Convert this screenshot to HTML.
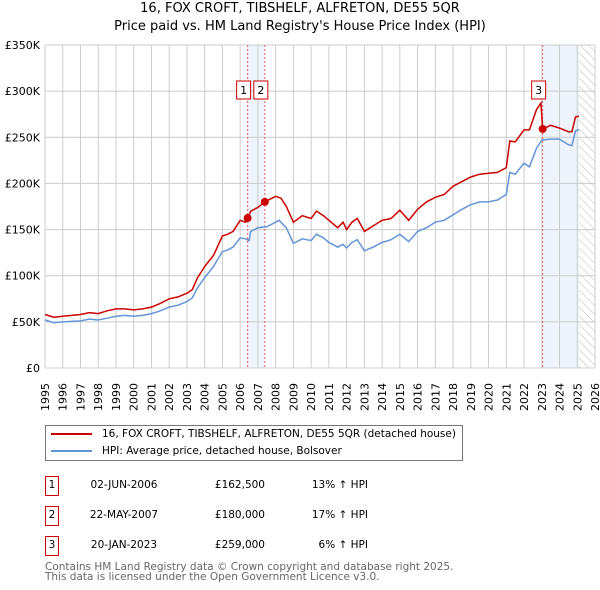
<!DOCTYPE html>
<html><head><meta charset="utf-8"><style>
body{margin:0;width:600px;height:590px;background:#fff;font-family:"DejaVu Sans","Liberation Sans",sans-serif;overflow:hidden;position:relative}
.t{position:absolute;white-space:nowrap}
</style></head><body>
<div class="t" style="left:0;width:600px;text-align:center;top:0px;font-size:13px;line-height:18px;color:#000">16, FOX CROFT, TIBSHELF, ALFRETON, DE55 5QR<br>Price paid vs. HM Land Registry's House Price Index (HPI)</div>
<svg id="ch" width="600" height="420" style="position:absolute;left:0;top:0" font-family="DejaVu Sans, Liberation Sans, sans-serif">
<defs><pattern id="hatch" width="6" height="6" patternUnits="userSpaceOnUse" patternTransform="rotate(-45)"><line x1="0" y1="0" x2="0" y2="6" stroke="#bbb" stroke-width="1"/></pattern></defs>
</svg>
<div style="position:absolute;left:45px;top:425px;width:416px;height:34px;border:1px solid #777;font-size:10.5px">
<div style="position:absolute;left:5px;top:2px;white-space:nowrap"><span style="display:inline-block;width:41px;height:2px;background:#cc0000;vertical-align:middle;margin-right:10px"></span>16, FOX CROFT, TIBSHELF, ALFRETON, DE55 5QR (detached house)</div>
<div style="position:absolute;left:5px;top:19px;white-space:nowrap"><span style="display:inline-block;width:41px;height:2px;background:#6495d8;vertical-align:middle;margin-right:10px"></span>HPI: Average price, detached house, Bolsover</div>
</div>
<div id="tbl" style="font-size:10.5px"></div>
<div class="t" style="left:45px;top:562px;font-size:10.5px;line-height:10px;color:#666">Contains HM Land Registry data © Crown copyright and database right 2025.<br>This data is licensed under the Open Government Licence v3.0.</div>
<script>
const hpiYears=[1995,1995.5,1996,1997,1997.5,1998,1998.5,1999,1999.5,2000,2000.5,2001,2001.5,2002,2002.5,2003,2003.3,2003.6,2004,2004.5,2005,2005.3,2005.6,2006,2006.3,2006.5,2006.6,2007,2007.5,2008,2008.2,2008.6,2009,2009.5,2010,2010.3,2010.7,2011,2011.5,2011.8,2012,2012.3,2012.6,2013,2013.5,2014,2014.5,2015,2015.5,2016,2016.5,2017,2017.5,2018,2018.5,2019,2019.5,2020,2020.5,2021,2021.2,2021.5,2022,2022.3,2022.7,2023,2023.5,2024,2024.5,2024.7,2024.9,2025.1];
const hpiValues=[52,49,50,51,53,52,54,56,57,56,57,59,62,66,68,72,76,87,98,110,126,128,131,141,140,138,148,152,153,158,160,152,135,140,138,145,141,136,131,134,130,136,139,127,131,136,139,145,137,148,152,158,160,166,172,177,180,180,182,188,212,210,222,218,238,247,248,248,242,241,257,258];
const propYears=[1995,1995.5,1996,1997,1997.5,1998,1998.5,1999,1999.5,2000,2000.5,2001,2001.5,2002,2002.5,2003,2003.3,2003.6,2004,2004.5,2005,2005.3,2005.6,2006,2006.3,2006.42,2006.6,2007,2007.39,2008,2008.3,2008.6,2009,2009.5,2010,2010.3,2010.7,2011,2011.5,2011.8,2012,2012.3,2012.6,2013,2013.5,2014,2014.5,2015,2015.5,2016,2016.5,2017,2017.5,2018,2018.5,2019,2019.5,2020,2020.5,2021,2021.2,2021.5,2022,2022.3,2022.7,2022.95,2023.05,2023.5,2024,2024.5,2024.7,2024.9,2025.1];
const propValues=[58,55,56,58,60,59,62,64,64,63,64,66,70,75,77,81,85,98,110,122,143,145,148,160,158,162.5,170,174,180,186,184,175,158,165,162,170,165,160,152,158,150,158,162,148,154,160,162,171,160,172,180,185,188,197,202,207,210,211,212,217,246,245,258,258,280,287,259,263,260,256,256,272,273];
const saleLabels=["1","2","3"];
const saleYears=[2006.42,2007.39,2023.05];
const salePrices=[162.5,180,259];
const saleDates=["02-JUN-2006","22-MAY-2007","20-JAN-2023"];
const salePriceText=["£162,500","£180,000","£259,000"];
const salePct=["13% ↑ HPI","17% ↑ HPI","6% ↑ HPI"];
const yTicks=[0,50,100,150,200,250,300,350];
const yTickLabels=["£0","£50K","£100K","£150K","£200K","£250K","£300K","£350K"];
const xTicks=[];for(let y=1995;y<=2026;y++)xTicks.push(y);

const X0=45,X1=595,Y0=368,Y1=45;
const xs=y=>X0+(y-1995)*(X1-X0)/31;
const ys=v=>Y0-v*(Y0-Y1)/350;
const svg=document.getElementById('ch');
const NS='http://www.w3.org/2000/svg';
function mk(t,a){const e=document.createElementNS(NS,t);for(const k in a)e.setAttribute(k,a[k]);svg.appendChild(e);return e;}
let r=mk('rect',{x:xs(saleYears[0]),y:Y1,width:xs(saleYears[1])-xs(saleYears[0]),height:Y0-Y1,fill:'#eef3fc'});


r=mk('rect',{x:xs(saleYears[2]),y:Y1,width:xs(2025.1)-xs(saleYears[2]),height:Y0-Y1,fill:'#eef3fc'});


r=mk('rect',{x:xs(2025.1),y:Y1,width:X1-xs(2025.1),height:Y0-Y1,fill:'url(#hatch)'});


xTicks.forEach(y=>{
 const l=mk('line',{x1:xs(y),x2:xs(y),y1:Y1,y2:Y0,stroke:'#cccccc','stroke-width':1});
 
 
 const t=mk('text',{x:0,y:0,transform:`translate(${xs(y)+4},${383}) rotate(-90)`,'text-anchor':'end','font-size':11,fill:'#000'});
 
 
 t.textContent=y;
});
yTicks.forEach((v,i)=>{
 const l=mk('line',{x1:X0,x2:X1,y1:ys(v),y2:ys(v),stroke:'#cccccc','stroke-width':1});
 
 
 const t=mk('text',{x:X0-5,y:ys(v)+4,'text-anchor':'end','font-size':11,fill:'#000'});
 
 
 t.textContent=yTickLabels[i];
});
saleYears.forEach(y=>{
 const l=mk('line',{x1:xs(y),x2:xs(y),y1:Y1,y2:Y0,stroke:'#e06060','stroke-width':1,'stroke-dasharray':'2,2'});
 
 
});
function path(xa,va){return xa.map((x,i)=>(i?'L':'M')+xs(x).toFixed(1)+','+ys(va[i]).toFixed(1)).join('');}
let p=mk('path',{d:path(hpiYears,hpiValues),fill:'none',stroke:'#6495d8','stroke-width':1.5});


p=mk('path',{d:path(propYears,propValues),fill:'none',stroke:'#cc0000','stroke-width':1.5});


saleYears.forEach((y,i)=>{
 const c=mk('circle',{cx:xs(y),cy:ys(salePrices[i]),r:4,fill:'#cc0000'});
 
 
 const bx=xs(y)-11;
 const b=mk('rect',{x:bx,y:81,width:14,height:18,fill:'#fff',stroke:'#cc0000','stroke-width':1});
 
 
 const t=mk('text',{x:bx+7,y:94,'text-anchor':'middle','font-size':11,fill:'#000'});
 
 
 t.textContent=saleLabels[i];
});
const tb=document.getElementById('tbl');
saleLabels.forEach((s,i)=>{
 const top=476+i*30;
 const row=document.createElement('div');
 
 
 row.style.cssText=`position:absolute;left:0;top:${top}px;width:600px;height:20px;white-space:nowrap`;
 row.innerHTML=`<div style="position:absolute;left:45px;top:0;width:12px;height:18px;border:1px solid #cc0000;text-align:center;line-height:16px">${s}</div>`+
 `<div style="position:absolute;left:74px;width:100px;text-align:center;top:3px">${saleDates[i]}</div>`+
 `<div style="position:absolute;left:180px;width:85px;text-align:right;top:3px">${salePriceText[i]}</div>`+
 `<div style="position:absolute;left:280px;width:88px;text-align:right;top:3px">${salePct[i]}</div>`;
 tb.appendChild(row);
});
</script>
</body></html>
